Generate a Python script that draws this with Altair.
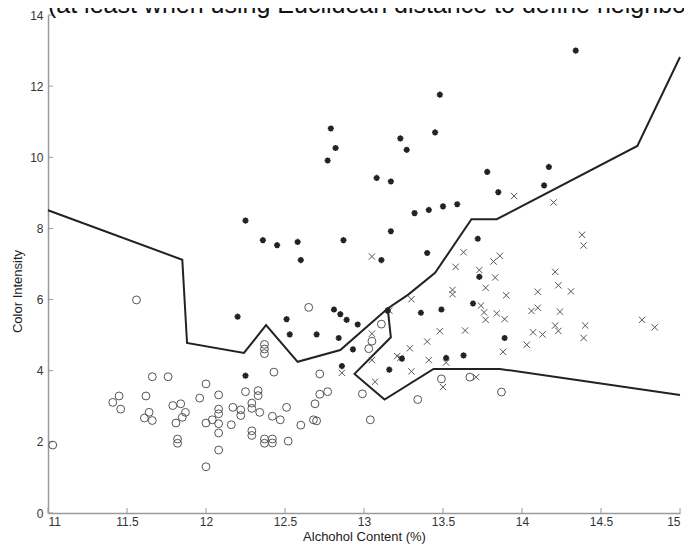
import altair as alt
import pandas as pd

TITLE = "(at least when using Euclidean distance to define neighbors)"
X_LABEL = "Alchohol Content (%)"
Y_LABEL = "Color Intensity"
X_TICKS = [11, 11.5, 12, 12.5, 13, 13.5, 14, 14.5, 15]
Y_TICKS = [0, 2, 4, 6, 8, 10, 12, 14]

circle_x = [11.03, 11.56, 11.66, 11.76, 11.45, 11.41, 11.46, 11.62, 11.64, 11.61, 11.66, 11.79, 11.84, 11.87,
            11.85, 11.81, 11.82, 11.82, 11.96, 12.00, 12.00, 12.04, 12.08, 12.08, 12.08, 12.08, 12.08, 12.08,
            12.00, 12.17, 12.22, 12.22, 12.16, 12.25, 12.33, 12.33, 12.29, 12.29, 12.34, 12.42, 12.47, 12.51,
            12.29, 12.29, 12.37, 12.42, 12.42, 12.37, 12.52, 12.60, 12.68, 12.70, 12.69, 12.72, 12.77, 12.37,
            12.37, 12.37, 12.43, 12.65, 12.72, 12.99, 13.04, 13.11, 13.05, 13.03, 13.49, 13.67, 13.87, 13.34]
circle_y = [1.91, 5.99, 3.83, 3.83, 3.29, 3.11, 2.92, 3.29, 2.83, 2.67, 2.60, 3.02, 3.07, 2.83,
            2.69, 2.53, 2.08, 1.96, 3.23, 3.63, 2.53, 2.62, 3.32, 2.92, 2.79, 2.51, 2.25, 1.77,
            1.30, 2.97, 2.90, 2.74, 2.48, 3.41, 3.44, 3.30, 3.09, 2.94, 2.83, 2.72, 2.62, 2.97,
            2.31, 2.18, 2.08, 2.08, 1.97, 1.96, 2.02, 2.47, 2.62, 2.59, 3.07, 3.34, 3.41, 4.74,
            4.61, 4.48, 3.96, 5.78, 3.91, 3.35, 2.62, 5.31, 4.83, 4.62, 3.77, 3.82, 3.40, 3.19]

star_x = [14.34, 13.48, 12.79, 12.82, 12.77, 13.23, 13.27, 13.45, 13.08, 13.17, 13.78, 14.17, 14.14, 13.85,
          13.32, 13.41, 13.50, 13.59, 12.25, 12.36, 12.45, 12.58, 12.60, 12.87, 13.17, 13.11, 13.40, 13.72,
          13.73, 13.69, 13.49, 13.36, 13.15, 12.81, 12.85, 12.89, 12.96, 12.20, 12.51, 12.53, 12.70, 12.84,
          12.93, 12.86, 12.25, 13.24, 13.16, 13.52, 13.63, 13.89]
star_y = [13.00, 11.76, 10.81, 10.26, 9.91, 10.53, 10.21, 10.70, 9.42, 9.32, 9.59, 9.73, 9.21, 9.02,
          8.43, 8.52, 8.62, 8.68, 8.22, 7.67, 7.53, 7.62, 7.11, 7.67, 7.92, 7.11, 7.31, 7.71,
          6.64, 5.89, 5.72, 5.63, 5.69, 5.72, 5.59, 5.43, 5.30, 5.52, 5.45, 5.02, 5.02, 4.92,
          4.60, 4.13, 3.86, 4.34, 4.03, 4.36, 4.43, 4.92]

cross_x = [13.05, 13.95, 14.20, 13.30, 13.16, 13.63, 13.58, 13.73, 13.83, 13.82, 13.86, 13.56, 13.56, 13.77,
           13.90, 13.74, 13.76, 13.77, 13.84, 13.89, 14.06, 14.10, 14.24, 14.10, 14.23, 14.21, 14.31, 14.38,
           14.39, 14.07, 14.13, 14.21, 14.23, 14.03, 13.88, 14.40, 14.39, 14.76, 14.84, 13.48, 13.64, 13.40,
           13.29, 13.21, 13.23, 13.41, 13.52, 13.05, 13.05, 12.86, 13.07, 13.30, 13.50, 13.71]
cross_y = [7.21, 8.91, 8.73, 6.01, 5.69, 7.33, 6.92, 6.83, 6.62, 7.07, 7.23, 6.27, 6.15, 6.33,
           6.12, 5.83, 5.64, 5.43, 5.61, 5.45, 5.68, 5.77, 5.66, 6.22, 6.40, 6.78, 6.23, 7.82,
           7.52, 5.08, 5.02, 5.27, 5.12, 4.73, 4.53, 5.27, 4.92, 5.43, 5.22, 5.11, 5.13, 4.82,
           4.63, 4.41, 4.36, 4.30, 4.23, 5.04, 4.30, 3.94, 3.69, 3.98, 3.54, 3.82]

upper_x = [11.00, 11.85, 11.88, 12.24, 12.38, 12.58, 12.85, 13.15, 13.28, 13.45, 13.68, 13.84, 14.73, 15.00]
upper_y = [8.51, 7.12, 4.78, 4.50, 5.28, 4.25, 4.58, 5.75, 6.14, 6.75, 8.26, 8.26, 10.32, 12.82]
lower_x = [13.15, 13.17, 12.94, 13.13, 13.44, 13.86, 15.00]
lower_y = [5.75, 4.94, 3.91, 3.19, 4.05, 4.05, 3.32]

W, H = 632, 498
FONT = "Liberation Sans"

xs = alt.Scale(domain=[11, 15], nice=False, zero=False)
ys = alt.Scale(domain=[0, 14], nice=False, zero=False)

x_axis = alt.Axis(values=X_TICKS, format="~g", title=X_LABEL, grid=False, ticks=False,
                  domainColor="#9a9a9a", domainWidth=1.5, labelColor="#333333", labelFontSize=12,
                  labelFont=FONT, labelPadding=3, titleFont=FONT, titleFontSize=13,
                  titleFontWeight="normal", titleColor="#222222", titlePadding=3)
y_axis = alt.Axis(values=Y_TICKS, format="d", title=Y_LABEL, grid=False, ticks=False,
                  domainColor="#9a9a9a", domainWidth=1.5, labelColor="#333333", labelFontSize=12,
                  labelFont=FONT, labelPadding=5, titleFont=FONT, titleFontSize=13,
                  titleFontWeight="normal", titleColor="#222222", titleX=-24, titleY=276)


def X(field):
    return alt.X(field, type="quantitative", scale=xs, axis=x_axis)


def Y(field):
    return alt.Y(field, type="quantitative", scale=ys, axis=y_axis)


circles = pd.DataFrame({"x": circle_x, "y": circle_y})
stars = pd.DataFrame({"x": star_x, "y": star_y})
crosses = pd.DataFrame({"x": cross_x, "y": cross_y})

bound_rows = []
for i, (a, b) in enumerate(zip(upper_x, upper_y)):
    bound_rows.append({"seg": "upper", "o": i, "x": a, "y": b})
for i, (a, b) in enumerate(zip(lower_x, lower_y)):
    bound_rows.append({"seg": "lower", "o": i, "x": a, "y": b})
bounds = pd.DataFrame(bound_rows)

ASTERISK = "M-1,0L1,0M0,-1L0,1M-0.7,-0.7L0.7,0.7M-0.7,0.7L0.7,-0.7"
XMARK = "M-1,-1L1,1M-1,1L1,-1"

circle_layer = alt.Chart(circles).mark_point(
    shape="circle", filled=False, stroke="#555555", strokeWidth=1, size=62, opacity=1
).encode(x=X("x"), y=Y("y"))

star_layer = alt.Chart(stars).mark_point(
    shape=ASTERISK, filled=False, stroke="#222222", strokeWidth=1.7, size=38, opacity=1
).encode(x=X("x"), y=Y("y"))

cross_layer = alt.Chart(crosses).mark_point(
    shape=XMARK, filled=False, stroke="#555555", strokeWidth=1, size=40, opacity=1
).encode(x=X("x"), y=Y("y"))

line_layer = alt.Chart(bounds).mark_line(color="#222222", strokeWidth=2).encode(
    x=X("x"), y=Y("y"), detail="seg:N", order="o:Q"
)

xt = pd.DataFrame({"t": X_TICKS})
yt = pd.DataFrame({"t": Y_TICKS})
xtick_layer = alt.Chart(xt).mark_rule(color="#9a9a9a", strokeWidth=1).encode(
    x=X("t"), y=alt.value(H), y2=alt.value(H - 5)
)
ytick_layer = alt.Chart(yt).mark_rule(color="#9a9a9a", strokeWidth=1).encode(
    y=Y("t"), x=alt.value(0), x2=alt.value(5)
)

title_layer = alt.Chart(pd.DataFrame({"t": [TITLE]})).mark_text(
    align="left", baseline="alphabetic", fontSize=25, font=FONT, color="#111111"
).encode(x=alt.value(0), y=alt.value(-2), text="t:N")

chart = alt.layer(
    xtick_layer, ytick_layer, line_layer, circle_layer, cross_layer, star_layer, title_layer
).properties(
    width=W, height=H,
    padding={"left": 40, "top": 7, "right": 4, "bottom": 32},
    autosize=alt.AutoSizeParams(type="none"),
    background="white",
).configure_view(stroke=None)

chart.save("out.html", embed_options={"renderer": "svg", "actions": False})
